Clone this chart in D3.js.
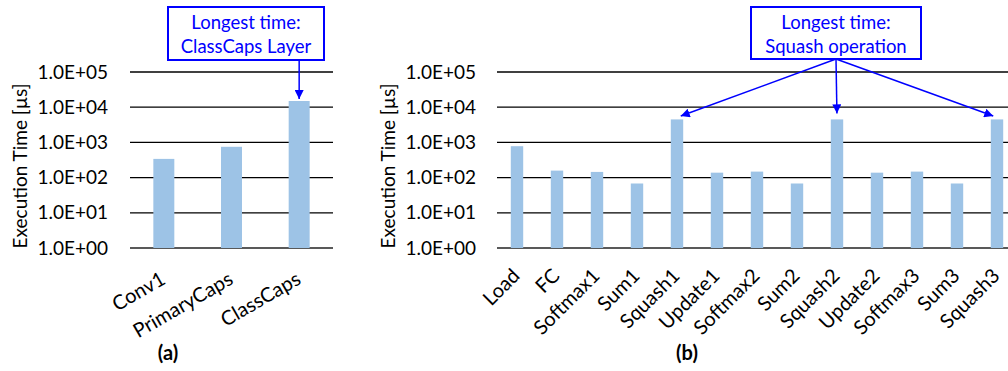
<!DOCTYPE html>
<html><head><meta charset="utf-8">
<script src="https://cdn.jsdelivr.net/npm/d3@7"></script>
<style>body{margin:0;background:#fff}svg{display:block}text{font-family:Lato,"Open Sans",sans-serif}</style>
</head><body>
<svg id="c" width="1008" height="371"></svg>
<script>
const layerCats = ["Conv1","PrimaryCaps","ClassCaps"];
const layerVals = [340, 750, 15000];
const opCats = ["Load","FC","Softmax1","Sum1","Squash1","Update1","Softmax2","Sum2","Squash2","Update2","Softmax3","Sum3","Squash3"];
const opVals = [780, 158, 145, 68, 4500, 138, 148, 68, 4500, 138, 148, 68, 4500];
const tickVals = [1, 10, 100, 1000, 10000, 100000];
const tickLabels = ["1.0E+00","1.0E+01","1.0E+02","1.0E+03","1.0E+04","1.0E+05"];
const yTitle = "Execution Time [µs]";
const noteA = ["Longest time:", "ClassCaps Layer"];
const noteB = ["Longest time:", "Squash operation"];

const svg = d3.select("#c");
const blue = "#0000FF", barCol = "#9DC3E6";
const defs = svg.append("defs");
defs.append("marker").attr("id","ah").attr("viewBox","0 0 10 10").attr("refX",10).attr("refY",5)
  .attr("markerWidth",6).attr("markerHeight",6).attr("orient","auto-start-reverse")
  .append("path").attr("d","M0,0L10,5L0,10z").attr("fill",blue);

const y = d3.scaleLog().domain([1,1e5]).range([248,72]);

function panel(cfg){
  const g = svg.append("g");
  const x = d3.scaleBand().domain(cfg.cats).range(cfg.xr).paddingInner(0.69).paddingOuter(0.345);
  g.selectAll("line.grid").data(tickVals).join("line")
    .attr("x1",cfg.gx[0]).attr("x2",cfg.gx[1]).attr("y1",d=>y(d)).attr("y2",d=>y(d))
    .attr("stroke",d=>d===1?"#595959":"#000").attr("stroke-width",d=>d===1?2:1.3);
  g.selectAll("text.tick").data(tickVals).join("text")
    .attr("x",cfg.tickX).attr("y",d=>y(d)).attr("dy","0.35em").attr("text-anchor","end")
    .attr("font-size",19).attr("fill","#000").text((d,i)=>tickLabels[i]);
  g.selectAll("rect.bar").data(cfg.vals).join("rect")
    .attr("x",(d,i)=>x(cfg.cats[i])).attr("width",x.bandwidth())
    .attr("y",d=>y(d)).attr("height",d=>y(1)-y(d)).attr("fill",barCol);
  g.selectAll("text.xl").data(cfg.cats).join("text")
    .attr("transform",d=>`translate(${x(d)+x.bandwidth()/2+cfg.lab.dx},${cfg.lab.y}) rotate(${cfg.lab.rot})`)
    .attr("text-anchor","end").attr("font-size",20).attr("fill","#000").text(d=>d);
  g.append("text").attr("transform",`translate(${cfg.titleX},166) rotate(-90)`)
    .attr("text-anchor","middle").attr("dy","0.35em").attr("font-size",19).attr("fill","#000").text(yTitle);
  g.append("text").attr("x",cfg.letterX).attr("y",360).attr("text-anchor","middle")
    .attr("font-size",20).attr("font-weight","bold").attr("fill","#000").text(cfg.letter);
  const b = cfg.box;
  g.append("rect").attr("x",b[0]).attr("y",b[1]).attr("width",b[2]-b[0]).attr("height",b[3]-b[1])
    .attr("fill","#fff").attr("stroke",blue).attr("stroke-width",2);
  g.selectAll("text.note").data(cfg.note).join("text")
    .attr("x",(b[0]+b[2])/2).attr("y",(d,i)=>23+i*24).attr("dy","0.35em").attr("text-anchor","middle")
    .attr("font-size",18.5).attr("fill",blue).text(d=>d);
  cfg.targets.forEach(t=>{
    const tx = x(cfg.cats[t])+x.bandwidth()/2, ty = y(cfg.vals[t]) - 2;
    const sx = cfg.arrowFrom(tx), sy = b[3];
    const dx = tx-sx, dy = ty-sy, L = Math.hypot(dx,dy), k = (L-cfg.shorten)/L;
    g.append("line").attr("x1",sx).attr("y1",sy).attr("x2",sx+dx*k).attr("y2",sy+dy*k)
      .attr("stroke",blue).attr("stroke-width",1.5).attr("marker-end","url(#ah)");
  });
}

panel({cats:layerCats, vals:layerVals, xr:[130,333], gx:[130,333], tickX:108, titleX:20,
  lab:{dx:3,y:283,rot:-30}, letter:"(a)", letterX:168, box:[168,7,324,60], note:noteA,
  targets:[2], arrowFrom:tx=>tx, shorten:0});
panel({cats:opCats, vals:opVals, xr:[497,1017], gx:[497,1008], tickX:476, titleX:388,
  lab:{dx:4,y:277,rot:-45}, letter:"(b)", letterX:687, box:[751,7,921,59], note:noteB,
  targets:[4,8,12], arrowFrom:tx=>836, shorten:4});
</script>
</body></html>
